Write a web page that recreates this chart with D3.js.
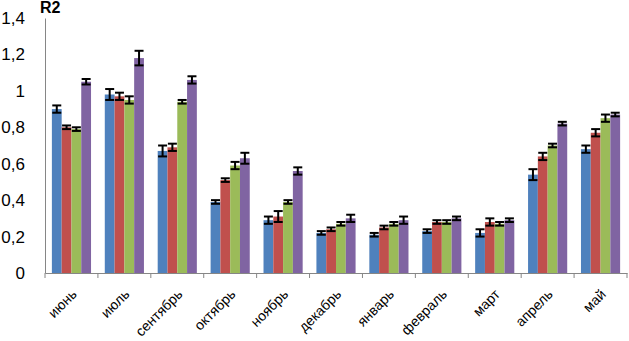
<!DOCTYPE html>
<html>
<head>
<meta charset="utf-8">
<script src="https://cdn.jsdelivr.net/npm/d3@7"></script>
<style>
  body { margin: 0; background: #fff; }
  svg { display: block; font-family: "Liberation Sans", Arial, sans-serif; }
</style>
</head>
<body>
<div id="chart"></div>
<script>
const months = ["июнь", "июль", "сентябрь", "октябрь", "ноябрь", "декабрь", "январь", "февраль", "март", "апрель", "май"]
const seriesNames = ["s1", "s2", "s3", "s4"]
const s1 = [0.90, 0.98, 0.67, 0.39, 0.29, 0.22, 0.21, 0.23, 0.22, 0.54, 0.68]
const s2 = [0.80, 0.97, 0.69, 0.51, 0.31, 0.24, 0.25, 0.28, 0.28, 0.64, 0.77]
const s3 = [0.79, 0.95, 0.94, 0.59, 0.39, 0.27, 0.27, 0.28, 0.27, 0.70, 0.85]
const s4 = [1.05, 1.18, 1.06, 0.63, 0.56, 0.30, 0.29, 0.30, 0.29, 0.82, 0.87]
const e1 = [0.02, 0.03, 0.03, 0.01, 0.02, 0.01, 0.01, 0.01, 0.02, 0.03, 0.02]
const e2 = [0.01, 0.02, 0.02, 0.01, 0.03, 0.01, 0.01, 0.01, 0.02, 0.02, 0.02]
const e3 = [0.01, 0.02, 0.01, 0.02, 0.01, 0.01, 0.01, 0.01, 0.01, 0.01, 0.02]
const e4 = [0.015, 0.04, 0.02, 0.03, 0.02, 0.02, 0.02, 0.01, 0.01, 0.01, 0.01]
const yTicks = [0, 0.2, 0.4, 0.6, 0.8, 1, 1.2, 1.4]
const colors = ["#4F81BD", "#C0504D", "#9BBB59", "#8064A2"]

const values = [s1, s2, s3, s4]
const errors = [e1, e2, e3, e4]

const width = 629, height = 341
const margin = {top: 18, right: 2, bottom: 68, left: 45}

const svg = d3.select("#chart").append("svg")
    .attr("width", width)
    .attr("height", height)

const x = d3.scaleBand()
    .domain(months)
    .range([margin.left, width - margin.right])
    .paddingInner(0.26)
    .paddingOuter(0.13)

const xSub = d3.scaleBand()
    .domain(seriesNames)
    .range([0, x.bandwidth()])

const y = d3.scaleLinear()
    .domain([0, 1.4])
    .range([height - margin.bottom, margin.top])

// y axis
const yAxis = svg.append("g")
    .attr("transform", `translate(${margin.left},0)`)
    .call(d3.axisLeft(y).tickValues(yTicks).tickSize(0).tickPadding(20)
      .tickFormat(d => String(d).replace(".", ",")))
yAxis.select(".domain").attr("stroke", "#868686")
yAxis.selectAll("text").attr("font-size", 17).attr("fill", "#000")

// bars
const groups = svg.append("g").selectAll("g")
  .data(months)
  .join("g")
    .attr("transform", d => `translate(${x(d)},0)`)

groups.selectAll("rect")
  .data((m, i) => seriesNames.map((s, k) => ({s, k, v: values[k][i]})))
  .join("rect")
    .attr("x", d => xSub(d.s))
    .attr("y", d => y(d.v))
    .attr("width", xSub.bandwidth())
    .attr("height", d => y(0) - y(d.v))
    .attr("fill", d => colors[d.k])

// error bars
const eb = groups.selectAll("g.err")
  .data((m, i) => seriesNames.map((s, k) => ({s, k, v: values[k][i], e: errors[k][i]})))
  .join("g")
    .attr("class", "err")
    .attr("stroke", "#000")
    .attr("stroke-width", 2)

eb.append("line")
    .attr("x1", d => xSub(d.s) + xSub.bandwidth() / 2)
    .attr("x2", d => xSub(d.s) + xSub.bandwidth() / 2)
    .attr("y1", d => y(d.v - d.e))
    .attr("y2", d => y(d.v + d.e))
eb.selectAll("line.cap")
  .data(d => [d.v - d.e, d.v + d.e].map(t => ({d, t})))
  .join("line")
    .attr("class", "cap")
    .attr("x1", c => xSub(c.d.s) + xSub.bandwidth() / 2 - 4.5)
    .attr("x2", c => xSub(c.d.s) + xSub.bandwidth() / 2 + 4.5)
    .attr("y1", c => y(c.t))
    .attr("y2", c => y(c.t))

// x axis
const xAxis = svg.append("g")
    .attr("transform", `translate(0,${y(0)})`)
    .call(d3.axisBottom(x).tickSize(0).tickSizeOuter(0))
xAxis.select(".domain").attr("stroke", "#868686")
xAxis.selectAll("text")
    .attr("font-size", 14)
    .attr("fill", "#000")
    .attr("text-anchor", "end")
    .attr("dy", 0)
    .attr("transform", "translate(4,20) rotate(-45)")

// boundary tick marks between categories
const step = x.step()
const bounds = d3.range(months.length + 1).map(i => x(months[0]) - x.paddingOuter() * step + i * step)
svg.append("g").selectAll("line")
  .data(bounds)
  .join("line")
    .attr("x1", d => d).attr("x2", d => d)
    .attr("y1", y(0)).attr("y2", y(0) + 5)
    .attr("stroke", "#868686")

svg.append("text")
    .attr("x", 40)
    .attr("y", 13)
    .attr("font-size", 16)
    .attr("font-weight", "bold")
    .text("R2")
</script>
</body>
</html>
